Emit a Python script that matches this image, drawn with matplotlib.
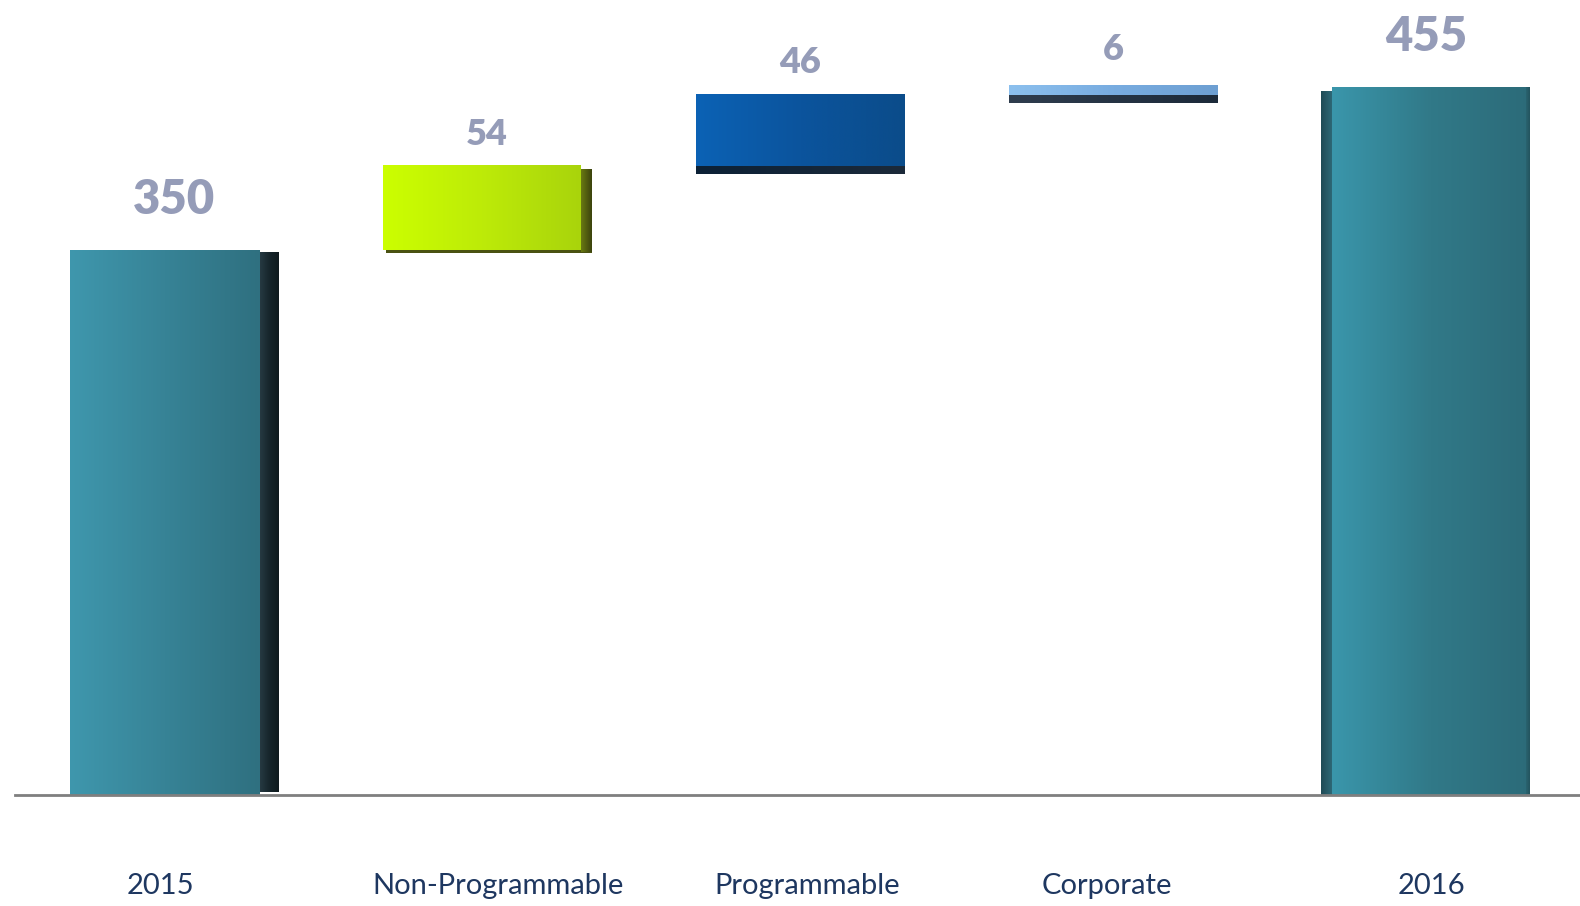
import numpy as np
import matplotlib.pyplot as plt
import matplotlib.transforms as mtransforms
from matplotlib.colors import LinearSegmentedColormap

# waterfall data
categories = ['2015', 'Non-Programmable', 'Programmable', 'Corporate', '2016']
values = [350, 54, 46, 6, 455]
is_total = [True, False, False, False, True]

# face gradients (left -> right) and the dark extrusion colour for each bar
face_colors = [
    ['#3f97ad', '#378396', '#2f7080'],
    ['#ccff00', '#bdeb08', '#a9d40c'],
    ['#0c62b5', '#0b549d', '#0b4c8a'],
    ['#8cc0ee', '#78ace0', '#6d9fd2'],
    ['#3a96ab', '#317988', '#2c6b79'],
]
side_colors = ['#16252b', '#3b420d', '#0c2136', '#2f3d4e', '#23535e']

label_color = '#959cb8'
tick_color = '#1e3760'


def gradient_rect(ax, x0, x1, y0, y1, colors, zorder):
    cmap = LinearSegmentedColormap.from_list('g', colors)
    grad = np.linspace(0, 1, 256).reshape(1, -1)
    ax.imshow(grad, extent=[x0, x1, y0, y1], aspect='auto', cmap=cmap,
              interpolation='bicubic', zorder=zorder)


fig = plt.figure(figsize=(15.8, 9.06), dpi=100)
ax = fig.add_axes([0.0096, 0.1225, 0.9904, 0.8775])
ax.set_xlim(-0.509, 4.493)
ax.set_ylim(0, 511)

x = np.arange(len(categories))
width = 0.667
depth = 5  # thickness of the dark bottom edge on floating bars

bottoms = []
running = 0
for v, tot in zip(values, is_total):
    if tot:
        bottoms.append(0)
        running = v
    else:
        bottoms.append(running)
        running += v

bars = ax.bar(x, values, width=width, bottom=bottoms, color='none',
              edgecolor='none', zorder=1)

for i, rect in enumerate(bars.patches):
    x0 = rect.get_x()
    x1 = x0 + rect.get_width()
    y0 = rect.get_y()
    y1 = y0 + rect.get_height()
    side = 0.06
    if i == 0:
        # front face with a dark right-hand side
        gradient_rect(ax, x0, x1 - side, y0, y1, face_colors[i], 2)
        gradient_rect(ax, x1 - side, x1, y0 + 2, y1 - 1,
                      ['#263a42', side_colors[i], '#0f1a1e'], 2)
    elif i == 4:
        # slight left bevel on the final total
        gradient_rect(ax, x0, x0 + 0.035, y0, y1 - 3,
                      ['#1f4a55', '#2d6876'], 2)
        gradient_rect(ax, x0 + 0.035, x1, y0, y1, face_colors[i], 2)
        gradient_rect(ax, x1 - 0.012, x1, y0, y1, ['#2a6470', side_colors[i]], 3)
    elif i == 1:
        gradient_rect(ax, x0, x1 - 0.035, y0, y1, face_colors[i], 2)
        gradient_rect(ax, x1 - 0.035, x1, y0 - 1, y1 - 2,
                      ['#6a7a12', side_colors[i]], 2)
        ax.fill_between([x0 + 0.01, x1], y0 - 1.5, y0, color='#4a5212',
                        zorder=1, lw=0)
    else:
        gradient_rect(ax, x0, x1, y0, y1, face_colors[i], 2)
        gradient_rect(ax, x0, x1, y0 - depth, y0,
                      [side_colors[i], '#1c2a3a'], 2)

    if is_total[i]:
        ax.annotate(str(values[i]), (x[i], y1), xytext=(0, 36),
                    textcoords='offset points', ha='center', va='center',
                    fontsize=34, fontweight='heavy', color=label_color,
                    family='Lato')
    else:
        ax.annotate(str(values[i]), (x[i], y1), xytext=(0, 23 if values[i] > 10 else 26),
                    textcoords='offset points', ha='center', va='center',
                    fontsize=26, fontweight='heavy', color=label_color,
                    family='Lato')

# baseline
ax.axhline(0, color='#7f7f7f', lw=2, zorder=4, clip_on=False)

for s in ax.spines.values():
    s.set_visible(False)
ax.set_yticks([])
ax.set_xticks(x)
ax.set_xticklabels(categories, fontsize=21, color=tick_color,
                   family='Lato', fontweight='normal')
ax.tick_params(axis='x', length=0, pad=56)

# nudge category labels sideways (points)
shifts = [-10, 8, 5, -4, 4]
for lab, dx in zip(ax.get_xticklabels(), shifts):
    lab.set_transform(lab.get_transform() +
                      mtransforms.ScaledTranslation(dx / 72, 0, fig.dpi_scale_trans))

fig.savefig('out.png', dpi=100, facecolor='white')
